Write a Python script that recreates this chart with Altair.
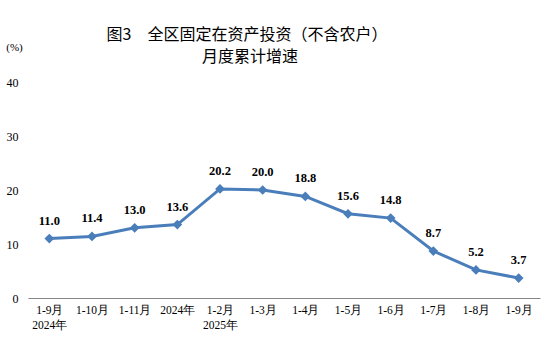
import altair as alt
import pandas as pd

categories = ["1-9月\n2024年", "1-10月", "1-11月", "2024年", "1-2月\n2025年", "1-3月",
              "1-4月", "1-5月", "1-6月", "1-7月", "1-8月", "1-9月"]
values = [11.0, 11.4, 13.0, 13.6, 20.2, 20.0, 18.8, 15.6, 14.8, 8.7, 5.2, 3.7]
title_lines = ["图3　全区固定在资产投资（不含农户）", "月度累计增速"]

df = pd.DataFrame({"period": categories, "value": values})
df["label"] = df["value"].map(lambda v: f"{v:.1f}")

color = "#4A7EBB"
serif = "Liberation Serif"

x = alt.X("period:N", sort=categories, scale=alt.Scale(paddingInner=0, paddingOuter=0.5),
          axis=alt.Axis(title=None, labelAngle=0, ticks=False, domainColor="#868686",
                        domainWidth=1.2, labelFont=serif, labelFontSize=11.5, labelColor="#000",
                        labelPadding=6, labelLineHeight=15,
                        labelExpr="split(datum.label, '\\n')"))
y = alt.Y("value:Q", scale=alt.Scale(domain=[0, 40]),
          axis=alt.Axis(values=[0, 10, 20, 30, 40], grid=False, domain=False, ticks=False,
                        labelFont=serif, labelFontSize=12, labelColor="#000", labelPadding=10,
                        title="(%)", titleAngle=0, titleFont=serif, titleFontSize=11,
                        titleFontWeight="normal", titleX=-14, titleY=-30, titleAlign="center"))

base = alt.Chart(df)
line = base.mark_line(color=color, strokeWidth=3).encode(x=x, y=y)
pts = base.mark_point(shape="diamond", filled=True, color=color, size=95, opacity=1).encode(x=x, y=y)
txt = base.mark_text(dy=-18, font=serif, fontSize=12.5, fontWeight="bold", color="#000").encode(
    x=x, y=y, text="label:N")

title1 = alt.Chart(pd.DataFrame({"t": [title_lines[0]]})).mark_text(
    font="Noto Sans CJK SC", fontSize=16, color="#000", baseline="middle", align="center"
).encode(x=alt.value(219), y=alt.value(-47), text="t:N")
title2 = alt.Chart(pd.DataFrame({"t": [title_lines[1]]})).mark_text(
    font="Noto Sans CJK SC", fontSize=16, color="#000", baseline="middle", align="center"
).encode(x=alt.value(222), y=alt.value(-25), text="t:N")

chart = (line + pts + txt + title1 + title2).properties(
    width=512, height=216,
    autosize=alt.AutoSizeParams(type="none"),
    padding={"left": 28, "top": 82, "right": 14, "bottom": 56},
).configure_view(stroke=None)

chart.save("out.html", embed_options={"renderer": "svg", "actions": False})
